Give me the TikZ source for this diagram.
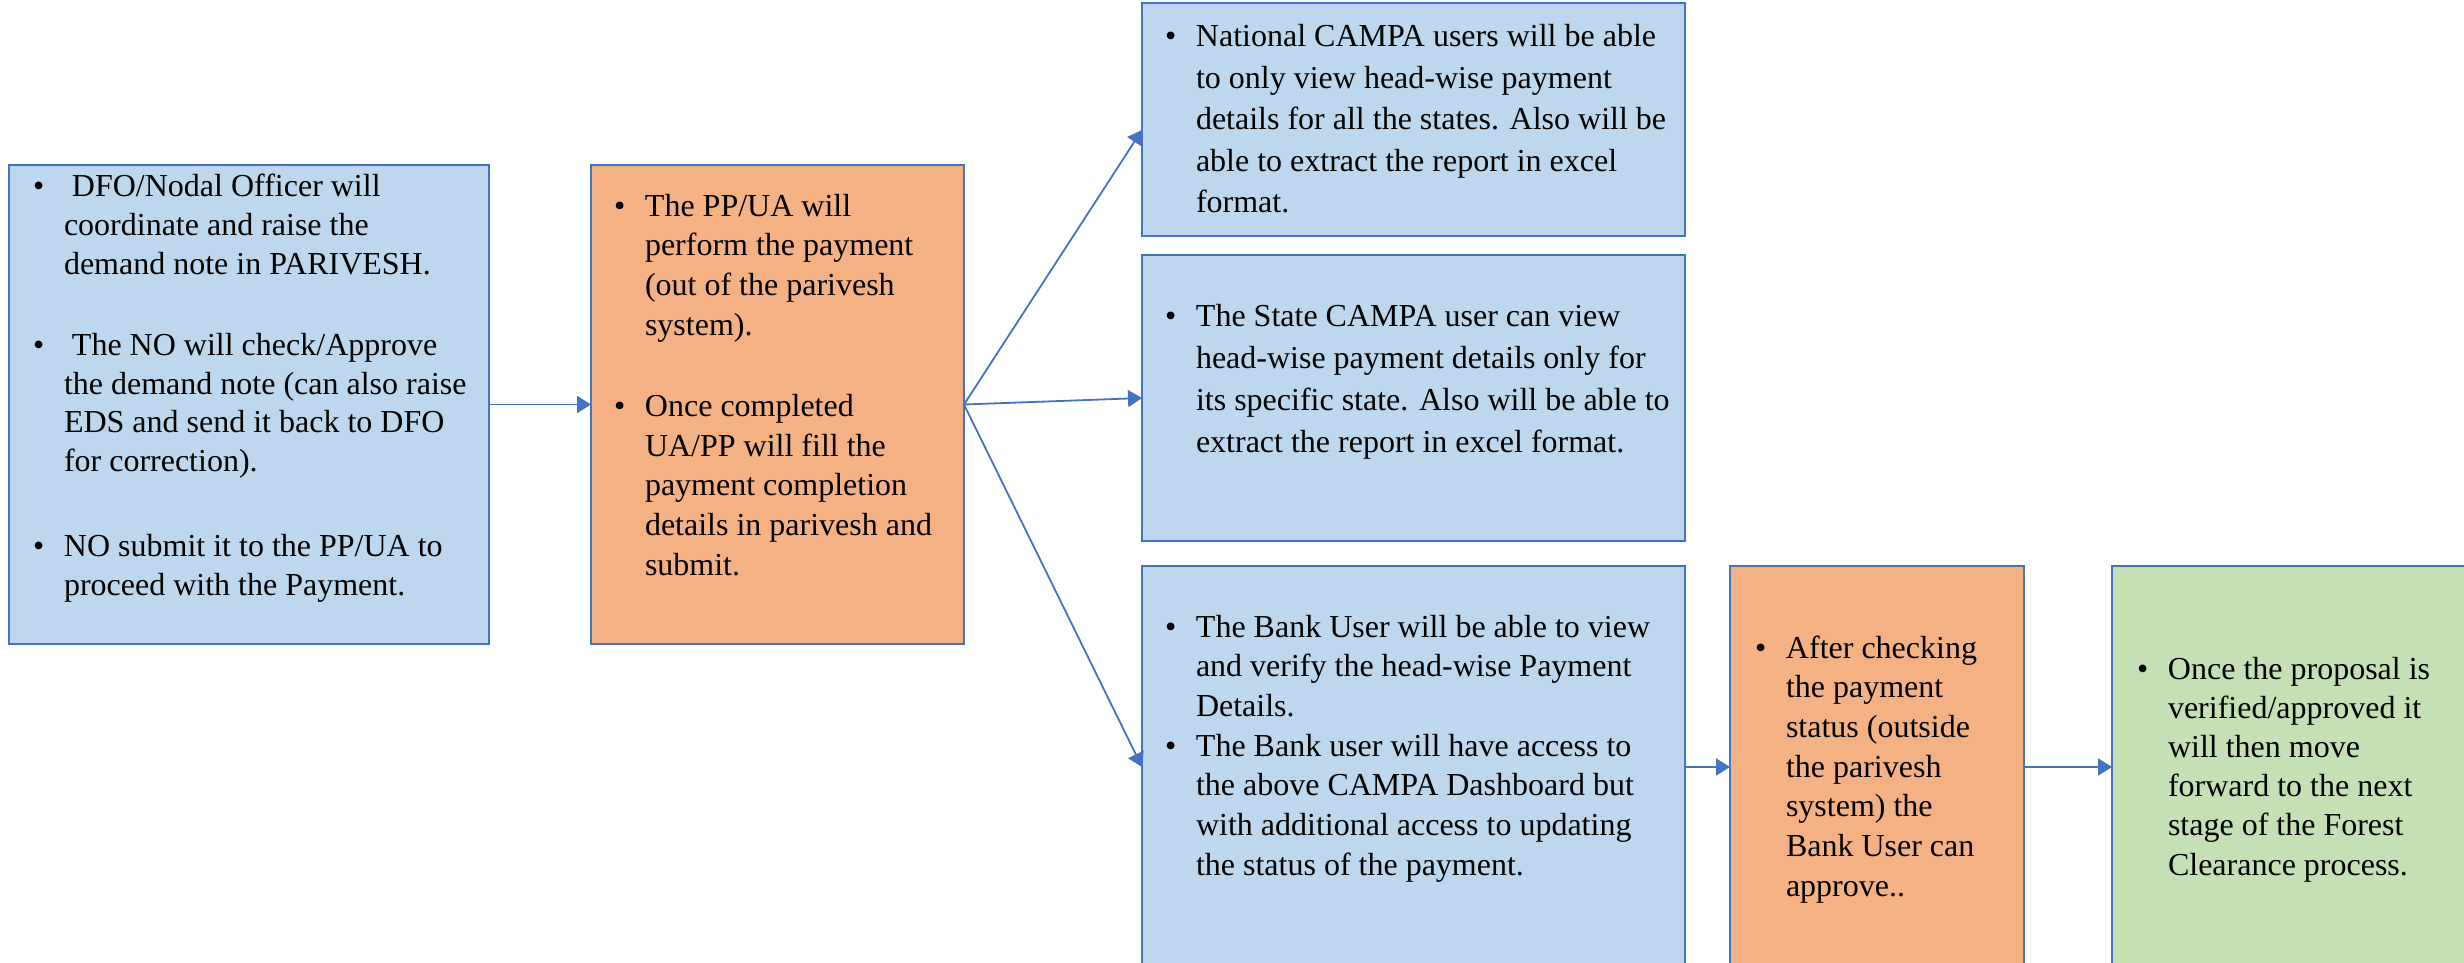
\documentclass[tikz,border=0pt]{standalone}
\usepackage{fontspec}
\setmainfont{Liberation Serif}
\usetikzlibrary{arrows.meta}
\definecolor{bfill}{HTML}{BDD7EE}
\definecolor{ofill}{HTML}{F4B183}
\definecolor{gfill}{HTML}{C5E0B4}
\definecolor{edgeblue}{HTML}{4472C4}
\newcommand{\blist}[1]{\begin{tabular}[t]{@{}p{15.5pt}@{}l@{}}#1\end{tabular}}
\begin{document}
\begin{tikzpicture}[x=0.5pt,y=-0.5pt,
  box/.style={draw=edgeblue, line width=1pt, inner sep=0pt, outer sep=0pt, anchor=north west},
  bluebox/.style={box, fill=bfill},
  orangebox/.style={box, fill=ofill},
  greenbox/.style={box, fill=gfill},
  txt/.style={anchor=base west, inner sep=0pt, outer sep=0pt, align=left},
  conn/.style={draw=edgeblue, line width=0.9pt, -{Triangle[length=7pt,width=8.5pt]}}]
\useasboundingbox (0,0) rectangle (2464,963);
\clip (0,0) rectangle (2464,963);
% boxes
\node[bluebox, minimum width=240pt, minimum height=239.5pt] (b1) at (9,165) {};
\node[orangebox, minimum width=186.5pt, minimum height=239.5pt] (b2) at (591,165) {};
\node[bluebox, minimum width=271.5pt, minimum height=116.5pt] (b3) at (1142,3) {};
\node[bluebox, minimum width=271.5pt, minimum height=143pt] (b4) at (1142,255) {};
\node[bluebox, minimum width=271.5pt, minimum height=201pt] (b5) at (1142,566) {};
\node[orangebox, minimum width=147pt, minimum height=201pt] (b6) at (1730,566) {};
\node[greenbox, minimum width=190pt, minimum height=201pt] (b7) at (2112,566) {};
% texts
\node[txt, font=\fontsize{16}{19.4}\selectfont] (t1) at (33,197) {\blist{%
\textbullet & \hspace{4pt}DFO/Nodal Officer will\\
 & coordinate and raise the\\
 & demand note in PARIVESH.\\[21pt]
\textbullet & \hspace{4pt}The NO will check/Approve\\
 & the demand note (can also raise\\
 & EDS and send it back to DFO\\
 & for correction).\\[23pt]
\textbullet & NO submit it to the PP/UA to\\
 & proceed with the Payment.}};
\node[txt, font=\fontsize{16}{19.9}\selectfont] (t2) at (614,216) {\blist{%
\textbullet & The PP/UA will\\
 & perform the payment\\
 & (out of the parivesh\\
 & system).\\[20.6pt]
\textbullet & Once completed\\
 & UA/PP will fill the\\
 & payment completion\\
 & details in parivesh and\\
 & submit.}};
\node[txt, font=\fontsize{16}{20.75}\selectfont] (t3) at (1165,47) {\blist{%
\textbullet & National CAMPA users will be able\\
 & to only view head-wise payment\\
 & details for all the states. Also will be\\
 & able to extract the report in excel\\
 & format.}};
\node[txt, font=\fontsize{16}{21}\selectfont] (t4) at (1165,326) {\blist{%
\textbullet & The State CAMPA user can view\\
 & head-wise payment details only for\\
 & its specific state. Also will be able to\\
 & extract the report in excel format.}};
\node[txt, font=\fontsize{16}{19.85}\selectfont] (t5) at (1165,637) {\blist{%
\textbullet & The Bank User will be able to view\\
 & and verify the head-wise Payment\\
 & Details.\\
\textbullet & The Bank user will have access to\\
 & the above CAMPA Dashboard but\\
 & with additional access to updating\\
 & the status of the payment.}};
\node[txt, font=\fontsize{16}{19.85}\selectfont] (t6) at (1755,658) {\blist{%
\textbullet & After checking\\
 & the payment\\
 & status (outside\\
 & the parivesh\\
 & system) the\\
 & Bank User can\\
 & approve..}};
\node[txt, font=\fontsize{16}{19.6}\selectfont] (t7) at (2137,679) {\blist{%
\textbullet & Once the proposal is\\
 & verified/approved it\\
 & will then move\\
 & forward to the next\\
 & stage of the Forest\\
 & Clearance process.}};
% connectors
\draw[conn] (b1.east) -- (b2.west);
\draw[conn] (b2.east) -- ([yshift=-5.25pt]b3.west);
\draw[conn] (b2.east) -- (b4.west);
\draw[conn] (b2.east) -- (b5.west);
\draw[conn] (b5.east) -- (b6.west);
\draw[conn] (b6.east) -- (b7.west);
\end{tikzpicture}
\end{document}
